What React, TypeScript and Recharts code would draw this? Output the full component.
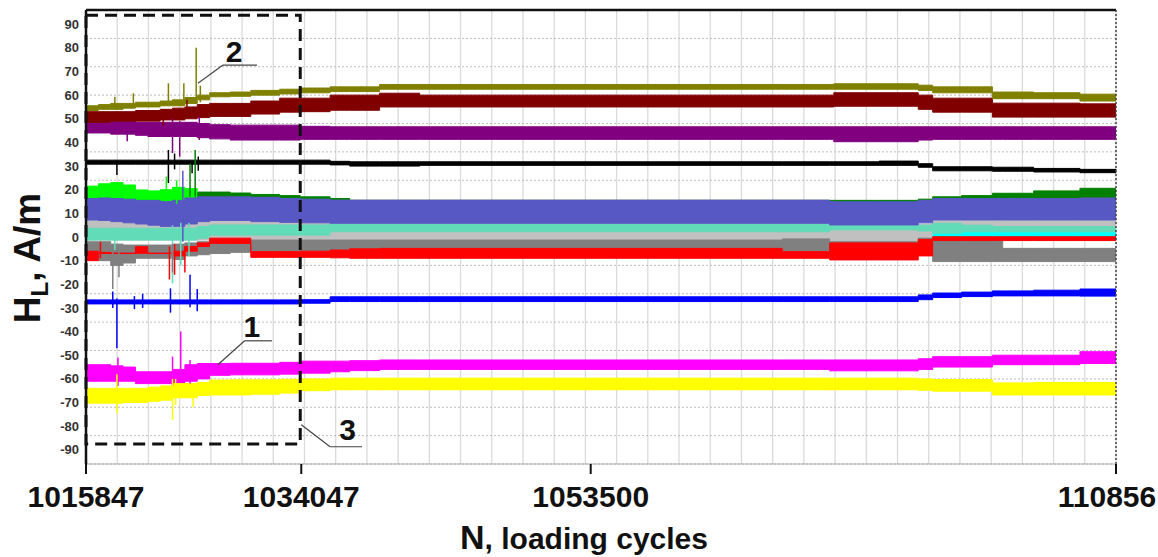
import {
  ComposedChart, Area, XAxis, YAxis, CartesianGrid, ReferenceLine, ReferenceArea, ReferenceDot,
} from 'recharts'

// sample positions along the (non-linear) cycle axis, 0..1000
const xs = [0, 12, 24, 36, 48, 60, 72, 84, 96, 108, 120, 140, 160, 188, 208, 237, 256, 285, 324, 400, 500, 600, 676, 722, 726, 770, 808, 822, 850, 880, 890, 920, 965, 1000]

const xTicks = [0, 209, 490, 1000]
const xTickLabels = ['1015847', '1034047', '1053500', '110856']
const yTicks = [90, 80, 70, 60, 50, 40, 30, 20, 10, 0, -10, -20, -30, -40, -50, -60, -70, -80, -90]

const N = null

// band bottom / top of every signal (A/m)
const oliveLo = [53.5, 54, 54, 54.5, 55, 55, 55.5, 55.5, 56.5, 58, 59.3, 59.5, 60, 60.5, 61, 61.5, 61.5, 62.5, 62.5, 62.5, 62.5, 62.5, 62.5, 62.5, 62.5, 62.5, 62, 61, 61, 58.5, 58.5, 58.5, 57.5, 57.5]
const oliveHi = [55.5, 56, 56.5, 56.5, 57, 57, 57.5, 58, 59, 60, 61, 61.3, 62, 62.5, 63, 63.5, 63.5, 64.5, 64.5, 64.5, 64.5, 64.5, 64.5, 64.5, 64.8, 64.8, 64.2, 63.5, 63.5, 61.3, 61.3, 61, 60.4, 60.4]

const darkRedLo = [48.5, 48.5, 49, 49, 49, 49, 49.5, 49.5, 50, 50.5, 51, 51, 52, 52.8, 53, 53.6, 53.6, 55, 55, 55, 55, 55, 55, 55, 55.3, 55.3, 54, 52.8, 52.8, 50.7, 50.7, 50.7, 50.7, 50.7]
const darkRedHi = [53, 53, 53, 53, 53.5, 53.5, 54, 54.5, 55, 56, 56.5, 56.5, 57.5, 58.7, 58.7, 60, 60, 60.8, 60, 60, 60, 60, 60, 60, 61, 61, 60, 58.7, 58.7, 56.6, 56.6, 56.6, 56.3, 56.3]

const purpleLo = [44, 44, 43.5, 43.5, 43, 42.5, 42.5, 42.5, 42.5, 42, 41.5, 41, 41, 41, 41.3, 41.3, 41.3, 41.3, 41.3, 41.3, 41.3, 41.3, 41.3, 41.3, 40.3, 40.3, 41, 41.3, 41.3, 41.3, 41.3, 41.3, 41.3, 41.3]
const purpleHi = [49.5, 49.5, 49, 49, 48.5, 48.5, 48.5, 48.5, 48.5, 48, 47.5, 47.3, 47.3, 47.3, 46.8, 46.6, 46.6, 46.6, 46.6, 46.6, 46.6, 46.6, 46.6, 46.6, 46.6, 46.6, 46.6, 46.6, 46.6, 46.6, 46.6, 46.6, 46.6, 46.6]

const blackLo = [30.8, 30.8, 30.8, 30.8, 30.8, 30.8, 30.8, 30.8, 30.8, 30.8, 30.8, 30.8, 30.8, 30.8, 30.8, 30.5, 30, 30, 30.3, 30.3, 30.3, 30.3, 30.3, 30.3, 30.3, 30.3, 29.5, 28, 28, 27.8, 27.8, 27.5, 27.2, 27]
const blackHi = [32.5, 32.5, 32.5, 32.5, 32.5, 32.5, 32.5, 32.5, 32.5, 32.5, 32.5, 32.5, 32.5, 32.5, 32.5, 32, 31.8, 31.8, 31.8, 31.8, 31.8, 31.8, 31.8, 31.8, 31.8, 32.1, 31, 29.7, 29.7, 29.5, 29.5, 29, 28.6, 28.3]

const limeLo = [15.5, 15.5, 15.5, 15, 15, 15, 14, 14, 14.5, 15.5, N, N, N, N, N, N, N, N, N, N, N, N, N, N, N, N, N, N, N, N, N, N, N, N]
const limeHi = [21.5, 22.5, 23, 22, 19.9, 19.5, 20, 21, 20.5, 19.5, N, N, N, N, N, N, N, N, N, N, N, N, N, N, N, N, N, N, N, N, N, N, N, N]

const greenLo = [15, 15, 15, 15, 15, 15, 15, 15, 15, 15, 16, 16, 15.6, 15.6, 15.4, 15, 14, 14, 14, 14, 14, 14, 14, 14, 14, 14, 14, 15.6, 15.6, 15.6, 15.6, 15.6, 15.6, 15.6]
const greenHi = [19, 19, 19, 19, 19, 19, 19, 19, 19, 19, 19, 18.6, 18, 17.5, 17, 16.3, 15.5, 15.5, 15.5, 15.5, 15.5, 15.5, 15.5, 15.5, 15.5, 15.5, 16, 17, 17.5, 18.5, 18.5, 19.5, 20.6, 20.6]

const violetLo = [7.2, 7, 6.5, 6, 5.5, 5, 4.5, 4.5, 5.5, 6.5, 7, 7, 6.5, 6.2, 6, 5.8, 5.8, 5.8, 5.8, 5.8, 5.8, 5.8, 5.8, 5.1, 5.1, 5.1, 6, 7.2, 7.2, 7.2, 7.2, 7.2, 7.2, 7.2]
const violetHi = [16.3, 16.5, 16.3, 16, 15.5, 15.5, 15, 15.5, 16.5, 17, 17, 17, 16.8, 16.3, 16, 15.6, 15.6, 15.6, 15.6, 15.6, 15.6, 15.6, 15.6, 15, 14.9, 14.9, 15.5, 16.3, 16.3, 16.3, 16.3, 16.3, 16.5, 16.5]

const silverLo = [-1.3, -1.3, -1.3, -1.3, -1.3, -1.3, -1.3, -1.3, -1.3, -1.3, -1.3, -1.3, -1.3, -1.3, -1.3, -1.3, -1.3, -1.3, -1.3, -1.3, -1.3, -1.3, -1.3, -2, -2, -2, -2, -1.3, -1.3, -1.3, -1.3, -1.3, -1.3, -1.3]
const silverHi = [7.5, 7.5, 7.5, 7.5, 7.5, 7.5, 7.5, 7.5, 7.5, 7.5, 8, 8, 8, 8, 8, 6, 6, 6, 6, 6, 6, 6, 6, 5.5, 5.5, 5.5, 5.5, 7.2, 7.2, 7.2, 7.2, 7.2, 7.2, 7.2]

const cyanLo = [N, N, N, N, N, N, N, N, N, N, N, N, N, N, N, N, N, N, N, N, N, N, N, N, N, N, N, 0.1, 0.1, 0.1, 0.1, 0.1, 0.1, 0.1]
const cyanHi = [N, N, N, N, N, N, N, N, N, N, N, N, N, N, N, N, N, N, N, N, N, N, N, N, N, N, N, 2.2, 2.2, 2.2, 2.2, 2.2, 2.2, 2.2]

const aquaLo = [-1.3, -1.3, -1.3, -1.3, -1.3, -1.3, -1.3, -1.3, -1.3, -0.5, 0.8, 0.8, 0.8, 0.8, 0.8, 2.2, 2.2, 2.2, 2.2, 2.2, 2.2, 2.2, 2.2, 3, 3, 3, 2.5, 1.6, 2.2, 2.2, 2.2, 2.2, 2.2, 2.2]
const aquaHi = [3.7, 3.7, 3.7, 3.7, 3.7, 3.7, 3.7, 3.7, 3.7, 4.5, 5.1, 5.1, 5.1, 5.1, 5.1, 5.8, 5.8, 5.8, 5.8, 5.8, 5.8, 5.8, 5.8, 5.1, 5.1, 5.1, 5, 5.8, 5, 4.4, 4.4, 4.4, 4.4, 4.4]

const greyLo = [-9.7, -10, -12, -11, -9, -9, -9, -9.5, -8, -7.5, -7, -6.5, -6.2, -6.2, -6, -5.5, -5, -4.8, -4.8, -4.8, -4.8, -4.8, -6.2, -6.2, -6.2, -6.2, -6.2, -10.4, -10.4, -10.4, -10.4, -10.4, -10.4, -10.4]
const greyHi = [-2, -2, -3, -3.4, -3.4, -3.4, -3.4, -3, -2.5, -2, -1.3, -1.3, -1.3, -1.3, -1.3, -1.3, -1.3, -1.3, -1.3, -1.3, -1.3, -1.3, -0.8, -2, -2, -2, -0.5, -1.3, -1.3, -1.3, -4.8, -4.8, -4.8, -4.8]

const redLo = [-10, -7, -7, -7, -6.9, -7, -7, -8, -6, -4, -2.7, -2.7, -8.6, -8.6, -8.6, -8.8, -9, -9, -9, -9, -9, -9, -9, -9.7, -9.7, -9.7, -8, -1.5, -1.5, -1.5, -1.5, -1.5, -1.5, -1.5]
const redHi = [-6, -6.5, -6.8, -6.8, -4.1, -6.8, -6.8, -6, -4, -2.5, -0.5, -0.5, -6.2, -6.2, -6, -5.5, -5, -4.8, -4.8, -4.8, -4.8, -4.8, -6.2, -2.5, -2.5, -2.5, -1, 0.1, 0.1, 0.1, 0.1, 0.1, 0.1, 0.1]

const blueLo = [-28.3, -28.3, -28.3, -28.3, -28.3, -28.3, -28.3, -28.3, -28.3, -28.3, -28.3, -28.3, -28.3, -28.3, -28, -27.3, -27.3, -27.3, -27.3, -27.3, -27.3, -27.3, -27.3, -27.3, -27.3, -27.3, -26.5, -25.6, -25.2, -24.9, -24.9, -24.9, -25, -25]
const blueHi = [-26.6, -26.6, -26.6, -26.6, -26.6, -26.6, -26.6, -26.6, -26.6, -26.6, -26.6, -26.6, -26.6, -26.6, -26.5, -25.3, -25.3, -25.3, -25.3, -25.3, -25.3, -25.3, -25.3, -25.3, -25.3, -25.3, -24.5, -23.7, -23.3, -22.8, -22.8, -22.5, -22, -22]

const magentaLo = [-61, -61, -61, -61, -62, -62, -62, -62, -61, -60, -58.5, -58.3, -58.3, -58, -57.6, -57, -56.5, -56, -56, -56, -56, -56, -56, -56.6, -56.6, -56.6, -56, -55, -55, -54, -54, -54, -53.5, -53.5]
const magentaHi = [-54, -54, -54.5, -55, -57, -57, -57, -56, -54, -53.5, -53.5, -53.4, -53.4, -53, -52.5, -52.5, -52.3, -52, -52, -52, -52, -52, -52, -52, -52, -52, -51.5, -50.6, -50.6, -50, -50, -50, -48.5, -48]

const yellowLo = [-70.3, -70.3, -70.3, -70, -70, -69.5, -69, -68, -68, -67, -66.8, -66.8, -66.5, -66, -65, -64.6, -64.6, -64.6, -64.6, -64.6, -64.6, -64.6, -64.6, -64.6, -64.6, -64.6, -64.8, -65.2, -65.2, -66.8, -66.8, -66.8, -66.8, -66.8]
const yellowHi = [-64, -64, -64, -64, -64, -63.5, -63, -62, -62, -61.5, -60.5, -60.4, -60.4, -60.2, -60, -59.7, -59.7, -59.7, -59.7, -59.7, -59.7, -59.7, -59.7, -59.7, -59.7, -59.7, -60, -60.3, -60.3, -61.7, -61.7, -61.5, -61.5, -61.5]

// short bursts in the first part of the record: [x, from, to]
const oliveSpikes = [[28, 55, 59.3], [46, 55.5, 60.8], [80, 56, 65], [95, 56, 65], [107, 57, 80], [111, 57, 64]]
const darkRedSpikes = [[75, 47, 54], [98, 50, 58]]
const purpleSpikes = [[40, 40.5, 48], [84, 35.5, 50], [91, 34, 49], [110, 41, 51]]
const blackSpikes = [[30, 26.2, 32], [80, 22.8, 36.8], [86, 28.6, 35.3], [103, 27, 32], [109, 28, 34]]
const limeSpikes = [[78, 15, 25.5], [88, 14, 24]]
const greenSpikes = [[101, 17, 31], [106, 17, 36.8]]
const violetSpikes = [[94, -2, 28]]
const aquaSpikes = [[28, -5.5, 4], [84, -19.6, 5], [92, -12, 6], [100, -8, 6]]
const greySpikes = [[26, -22, -3], [32, -17, -3], [84, -15, -3]]
const redSpikes = [[14, -9, -2], [81, -18, -4], [86, -16, -3], [96, -15, -4]]
const blueSpikes = [[26, -30, -23], [30, -47, -26], [47, -30.5, -25], [55, -30, -24], [82, -32, -21.7], [101, -29.7, -16], [108, -31.4, -22]]
const magentaSpikes = [[31, -63, -51], [84, -63, -50.6], [92, -60, -40], [101, -62, -52]]
const yellowSpikes = [[30, -74.5, -58], [84, -77.3, -60], [87, -71, -60], [104, -72, -62]]

// grid is laid on its own divisions (not the tick values)
const gridCols = Array.from({ length: 50 }, (_, i) => i)
const gridRows = Array.from({ length: 15 }, (_, i) => i + 1)

// annotation leaders and numbers
const leaders = [
  [[108.7, 65], [133, 72.7], [166, 72.7]],
  [[128, -54], [154, -43.9], [180.6, -43.9]],
  [[209, -79.4], [237, -88.7], [268, -88.7]],
]
const marks = [['2', 143.7, 78.6], ['1', 161, -37.6], ['3', 254, -81.5]]

const series = [
  { key: 'silver', color: '#c0c0c0', lo: silverLo, hi: silverHi, spikes: [] },
  { key: 'cyan', color: '#00ffff', lo: cyanLo, hi: cyanHi, spikes: [] },
  { key: 'aqua', color: '#62dbb8', lo: aquaLo, hi: aquaHi, spikes: aquaSpikes },
  { key: 'grey', color: '#808080', lo: greyLo, hi: greyHi, spikes: greySpikes },
  { key: 'red', color: '#ff0000', lo: redLo, hi: redHi, spikes: redSpikes },
  { key: 'green', color: '#008000', lo: greenLo, hi: greenHi, spikes: greenSpikes },
  { key: 'lime', color: '#00ff00', lo: limeLo, hi: limeHi, spikes: limeSpikes },
  { key: 'violet', color: '#5858c4', lo: violetLo, hi: violetHi, spikes: violetSpikes },
  { key: 'purple', color: '#800080', lo: purpleLo, hi: purpleHi, spikes: purpleSpikes },
  { key: 'darkRed', color: '#800000', lo: darkRedLo, hi: darkRedHi, spikes: darkRedSpikes },
  { key: 'olive', color: '#808000', lo: oliveLo, hi: oliveHi, spikes: oliveSpikes },
  { key: 'black', color: '#000000', lo: blackLo, hi: blackHi, spikes: blackSpikes },
  { key: 'blue', color: '#0000ff', lo: blueLo, hi: blueHi, spikes: blueSpikes },
  { key: 'magenta', color: '#ff00ff', lo: magentaLo, hi: magentaHi, spikes: magentaSpikes },
  { key: 'yellow', color: '#ffff00', lo: yellowLo, hi: yellowHi, spikes: yellowSpikes },
]

const rows = xs.map((x, i) => {
  const row: Record<string, any> = { x }
  series.forEach(s => {
    row[s.key] = s.lo[i] == null || s.hi[i] == null ? null : [s.lo[i], s.hi[i]]
  })
  return row
})

const FONT = '"Liberation Sans", Arial, sans-serif'

// cycle label; the last one is pulled in so it stays on the page
function CycleTick(props: any) {
  const { x, y, payload } = props
  const i = xTicks.indexOf(payload.value)
  const last = i === xTicks.length - 1
  return (
    <text
      x={x}
      y={y}
      dx={last ? -9 : 0}
      dy="0.71em"
      textAnchor="middle"
      fontSize={30}
      fontWeight={700}
      fill="#111"
      fontFamily={FONT}
    >
      {xTickLabels[i]}
    </text>
  )
}

export default function App() {
  return (
    <div style={{ position: 'absolute', left: 0, top: 0, width: 1158, height: 557, background: '#fff', fontFamily: FONT }}>
      <ComposedChart width={1158} height={557} data={rows} margin={{ top: 10, right: 42, bottom: 0, left: 0 }}>
        <CartesianGrid xAxisId="gx" yAxisId="gy" horizontal={false} stroke="#dadada" strokeWidth={1.3} />
        <CartesianGrid xAxisId="gx" yAxisId="gy" vertical={false} stroke="#bdbdbd" strokeDasharray="2 2" />
        <XAxis xAxisId="gx" type="number" domain={[-0.096, 49.3]} ticks={gridCols} hide allowDataOverflow />
        <YAxis yAxisId="gy" type="number" domain={[0, 16]} ticks={gridRows} hide allowDataOverflow />

        <XAxis
          dataKey="x"
          type="number"
          domain={[0, 1000]}
          ticks={xTicks}
          interval={0}
          height={93}
          tickSize={10}
          tickMargin={12}
          tick={<CycleTick />}
          tickLine={{ stroke: '#111', strokeWidth: 2 }}
          axisLine={{ stroke: '#aaa', strokeWidth: 1 }}
        />
        <YAxis
          type="number"
          domain={[-96, 96]}
          ticks={yTicks}
          interval={0}
          width={86}
          tickLine={false}
          tickMargin={1}
          tick={{ fontSize: 13, fontWeight: 700, fill: '#333', fontFamily: FONT }}
          axisLine={{ stroke: '#111', strokeWidth: 2.5 }}
        />

        {series.map(s => (
          <Area
            key={s.key}
            dataKey={s.key}
            type="stepAfter"
            stroke={s.color}
            strokeWidth={1}
            fill={s.color}
            fillOpacity={1}
            dot={false}
            activeDot={false}
            isAnimationActive={false}
          />
        ))}

        {series.flatMap(s =>
          s.spikes.map(([x, lo, hi], j) => (
            <ReferenceLine
              key={`${s.key}-sp-${j}`}
              segment={[{ x, y: lo }, { x, y: hi }]}
              stroke={s.color}
              strokeWidth={1.5}
            />
          ))
        )}

        <ReferenceLine y={96} stroke="#111" strokeWidth={2.5} />
        <ReferenceLine x={1000} stroke="#444" strokeWidth={1.5} strokeDasharray="2 2" />

        <ReferenceArea
          x1={0}
          x2={208}
          y1={-87.5}
          y2={93.8}
          fill="none"
          fillOpacity={0}
          stroke="#111"
          strokeWidth={3}
          strokeDasharray="12 7"
        />

        {leaders.flatMap((pts, i) =>
          pts.slice(1).map((p, j) => (
            <ReferenceLine
              key={`ld-${i}-${j}`}
              segment={[{ x: pts[j][0], y: pts[j][1] }, { x: p[0], y: p[1] }]}
              stroke="#444"
              strokeWidth={1.2}
            />
          ))
        )}
        {marks.map(([t, x, y]) => (
          <ReferenceDot
            key={`mk-${t}`}
            x={x as number}
            y={y as number}
            r={0}
            fill="none"
            stroke="none"
            label={{ value: t as string, position: 'center', fontSize: 30, fontWeight: 700, fill: '#111', fontFamily: FONT }}
          />
        ))}
      </ComposedChart>

      <svg width={1158} height={557} style={{ position: 'absolute', left: 0, top: 0, pointerEvents: 'none' }}>
        <text
          x={40}
          y={258}
          transform="rotate(-90 40 258)"
          textAnchor="middle"
          fontSize={37}
          fontWeight={700}
          fill="#111"
          fontFamily={FONT}
        >
          H<tspan fontSize={24} dy={8}>L</tspan><tspan dy={-8}>, A/m</tspan>
        </text>
        <text x={584} y={549} textAnchor="middle" fontWeight={700} fill="#111" fontFamily={FONT}>
          <tspan fontSize={34}>N</tspan>
          <tspan fontSize={30}>, loading cycles</tspan>
        </text>
      </svg>
    </div>
  )
}
